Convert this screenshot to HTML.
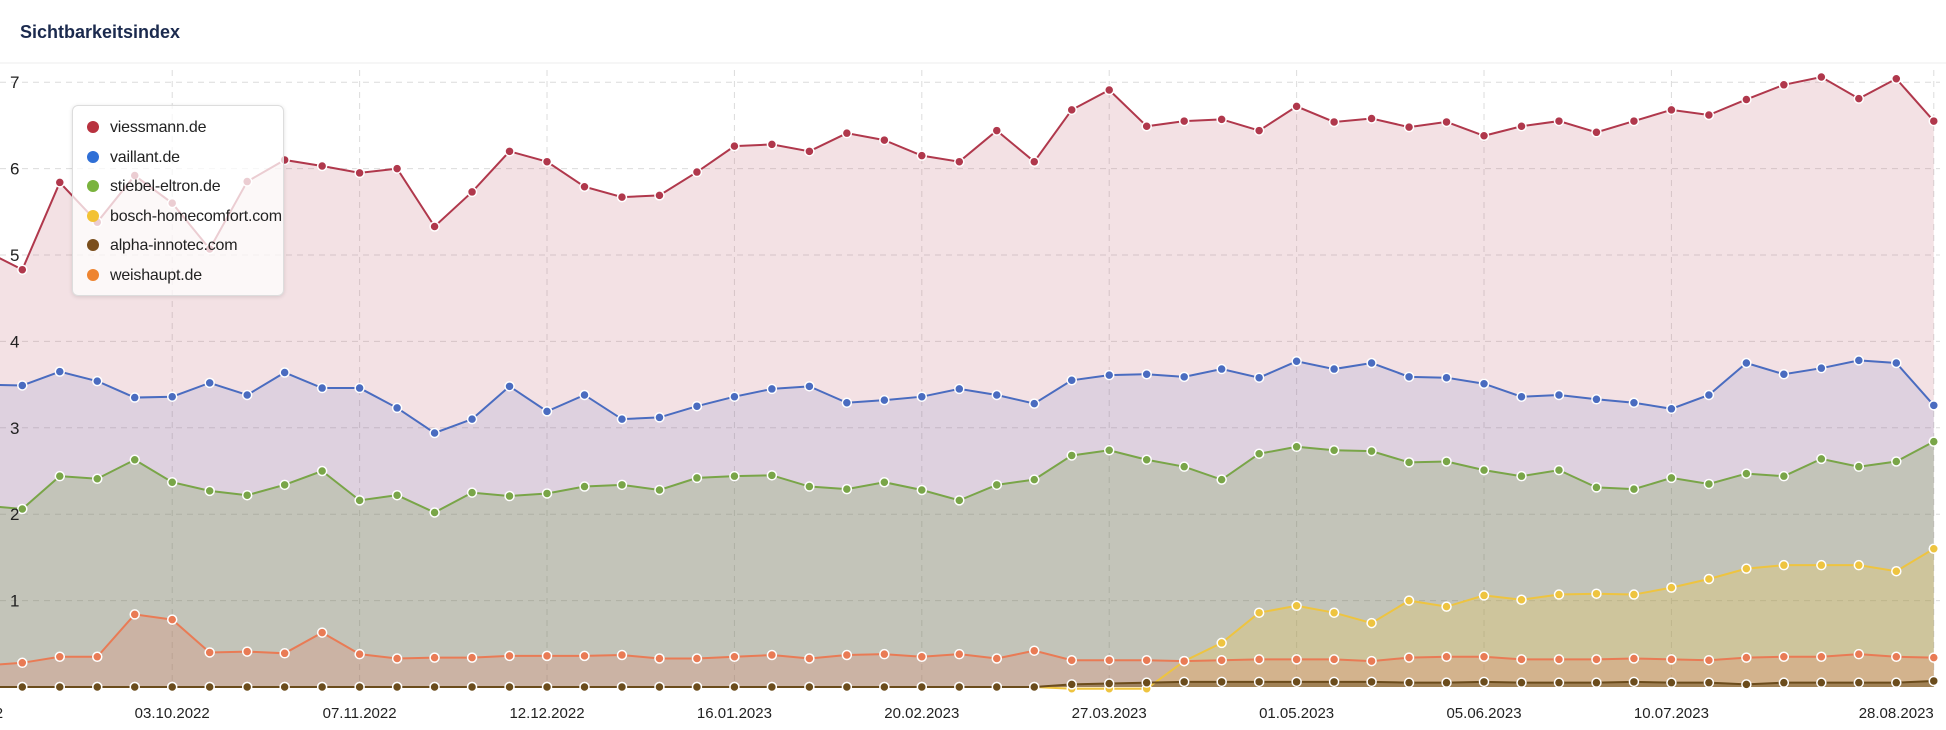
<!DOCTYPE html>
<html><head><meta charset="utf-8"><style>
body{margin:0;background:#fff;width:1946px;height:730px;overflow:hidden;font-family:"Liberation Sans",sans-serif}
#t{position:absolute;left:20px;top:22px;font-weight:bold;font-size:18px;color:#1b2a4e}
#legend{position:absolute;left:72px;top:105px;width:210px;height:189px;background:rgba(255,255,255,0.75);border:1px solid #ddd;border-radius:6px;box-shadow:0 1px 4px rgba(0,0,0,0.12)}
.le{position:absolute;left:14px;font-size:16px;color:#222;height:22px;line-height:22px;white-space:nowrap;letter-spacing:-0.2px}
.le i{display:inline-block;width:12px;height:12px;border-radius:50%;margin-right:11px;vertical-align:-1px}
</style></head><body>
<div id="t">Sichtbarkeitsindex</div>
<svg id="c" width="1946" height="730" style="position:absolute;left:0;top:0"></svg>
<div id="legend"></div>
<script>
const categories=['22.08.2022','29.08.2022','05.09.2022','12.09.2022','19.09.2022','26.09.2022','03.10.2022','10.10.2022','17.10.2022','24.10.2022','31.10.2022','07.11.2022','14.11.2022','21.11.2022','28.11.2022','05.12.2022','12.12.2022','19.12.2022','26.12.2022','02.01.2023','09.01.2023','16.01.2023','23.01.2023','30.01.2023','06.02.2023','13.02.2023','20.02.2023','27.02.2023','06.03.2023','13.03.2023','20.03.2023','27.03.2023','03.04.2023','10.04.2023','17.04.2023','24.04.2023','01.05.2023','08.05.2023','15.05.2023','22.05.2023','29.05.2023','05.06.2023','12.06.2023','19.06.2023','26.06.2023','03.07.2023','10.07.2023','17.07.2023','24.07.2023','31.07.2023','07.08.2023','14.08.2023','21.08.2023','28.08.2023'];
const tickLabels=['03.10.2022','07.11.2022','12.12.2022','16.01.2023','20.02.2023','27.03.2023','01.05.2023','05.06.2023','10.07.2023','28.08.2023'];
const yTicks=[1,2,3,4,5,6,7];
const viessmann=[5.05,4.83,5.84,5.38,5.92,5.6,5.07,5.85,6.1,6.03,5.95,6.0,5.33,5.73,6.2,6.08,5.79,5.67,5.69,5.96,6.26,6.28,6.2,6.41,6.33,6.15,6.08,6.44,6.08,6.68,6.91,6.49,6.55,6.57,6.44,6.72,6.54,6.58,6.48,6.54,6.38,6.49,6.55,6.42,6.55,6.68,6.62,6.8,6.97,7.06,6.81,7.04,6.55];
const vaillant=[3.5,3.49,3.65,3.54,3.35,3.36,3.52,3.38,3.64,3.46,3.46,3.23,2.94,3.1,3.48,3.19,3.38,3.1,3.12,3.25,3.36,3.45,3.48,3.29,3.32,3.36,3.45,3.38,3.28,3.55,3.61,3.62,3.59,3.68,3.58,3.77,3.68,3.75,3.59,3.58,3.51,3.36,3.38,3.33,3.29,3.22,3.38,3.75,3.62,3.69,3.78,3.75,3.26];
const stiebel=[2.1,2.06,2.44,2.41,2.63,2.37,2.27,2.22,2.34,2.5,2.16,2.22,2.02,2.25,2.21,2.24,2.32,2.34,2.28,2.42,2.44,2.45,2.32,2.29,2.37,2.28,2.16,2.34,2.4,2.68,2.74,2.63,2.55,2.4,2.7,2.78,2.74,2.73,2.6,2.61,2.51,2.44,2.51,2.31,2.29,2.42,2.35,2.47,2.44,2.64,2.55,2.61,2.84];
const bosch=[0,0,0,0,0,0,0,0,0,0,0,0,0,0,0,0,0,0,0,0,0,0,0,0,0,0,0,0,0,-0.02,-0.02,-0.02,0.3,0.51,0.86,0.94,0.86,0.74,1.0,0.93,1.06,1.01,1.07,1.08,1.07,1.15,1.25,1.37,1.41,1.41,1.41,1.34,1.6];
const weishaupt=[0.25,0.28,0.35,0.35,0.84,0.78,0.4,0.41,0.39,0.63,0.38,0.33,0.34,0.34,0.36,0.36,0.36,0.37,0.33,0.33,0.35,0.37,0.33,0.37,0.38,0.35,0.38,0.33,0.42,0.31,0.31,0.31,0.30,0.31,0.32,0.32,0.32,0.30,0.34,0.35,0.35,0.32,0.32,0.32,0.33,0.32,0.31,0.34,0.35,0.35,0.38,0.35,0.34];
const alpha=[0,0,0,0,0,0,0,0,0,0,0,0,0,0,0,0,0,0,0,0,0,0,0,0,0,0,0,0,0,0.03,0.04,0.05,0.06,0.06,0.06,0.06,0.06,0.06,0.05,0.05,0.06,0.05,0.05,0.05,0.06,0.05,0.05,0.03,0.05,0.05,0.05,0.05,0.07];
const seriesNames=['viessmann.de','vaillant.de','stiebel-eltron.de','bosch-homecomfort.com','alpha-innotec.com','weishaupt.de'];
const NS='http://www.w3.org/2000/svg';
const svg=document.getElementById('c');
const X0=22.3-37.48, DX=37.48, Y0=687, UY=86.4;
const xPos=i=>X0+DX*i;
const yPos=v=>Y0-v*UY;
function mk(tag,attrs){const e=document.createElementNS(NS,tag);for(const k in attrs)e.setAttribute(k,attrs[k]);svg.appendChild(e);return e;}
const sep=mk('line',{x1:0,x2:1946,y1:63,y2:63,stroke:'#ececec'});


yTicks.forEach(t=>{
  const l=mk('line',{x1:0,x2:1940,y1:yPos(t),y2:yPos(t),stroke:'#dcdcdc','stroke-dasharray':'6,5'});
  
  
});
tickLabels.forEach(lab=>{
  const i=categories.indexOf(lab)-1;
  const x=xPos(i);
  const l=mk('line',{x1:x,x2:x,y1:70,y2:Y0,stroke:'#dcdcdc','stroke-dasharray':'6,5'});
  
  
  const t=mk('text',{x:x,y:718,'text-anchor':lab==='28.08.2023'?'end':'middle','font-size':'15',fill:'#222'});
  t.textContent=lab;
  
  
});
const t0=mk('text',{x:-72,y:718,'font-size':'15',fill:'#222'});t0.textContent='29.08.2022';


const series=[[viessmann,'#b0384c','rgba(185,80,95,0.17)','viessmann'],[vaillant,'#4a6cc0','rgba(70,100,190,0.12)','vaillant'],[stiebel,'#79a548','rgba(100,150,50,0.22)','stiebel'],[bosch,'#eec440','rgba(240,200,70,0.25)','bosch'],[weishaupt,'#e97b55','rgba(230,120,90,0.22)','weishaupt'],[alpha,'#6b4c1c','rgba(110,80,30,0.5)','alpha']];
series.forEach(([d,c,f,n])=>{
  let p='M'+xPos(0)+','+yPos(0);
  d.forEach((v,i)=>p+=' L'+xPos(i)+','+yPos(v));
  p+=' L'+xPos(d.length-1)+','+yPos(0)+' Z';
  const a=mk('path',{d:p,fill:f,stroke:'none'});
  
  
});
series.forEach(([d,c,f,n])=>{
  const l=mk('polyline',{points:d.map((v,i)=>xPos(i)+','+yPos(v)).join(' '),fill:'none',stroke:c,'stroke-width':2});
  
  
  d.forEach((v,i)=>{if(i===0)return;
    const m=mk('circle',{cx:xPos(i),cy:yPos(v),r:4.5,fill:c,stroke:'#fff','stroke-width':1.5});
    
    
  });
});
yTicks.forEach(t=>{
  const tx=mk('text',{x:10,y:yPos(t)+6,'font-size':'17',fill:'#222'});tx.textContent=t;
  
  
});
const lg=document.getElementById('legend');
const lc=['#b8323f','#2f6fd6','#7ab33d','#f2c234','#7a4e1c','#ee8430'];
seriesNames.forEach((s,i)=>{
  const e=document.createElement('div');e.className='le';e.style.top=(11+i*29.5)+'px';
  e.innerHTML='<i style="background:'+lc[i]+'"></i>'+s;
  
  
  lg.appendChild(e);
});
</script>
</body></html>
